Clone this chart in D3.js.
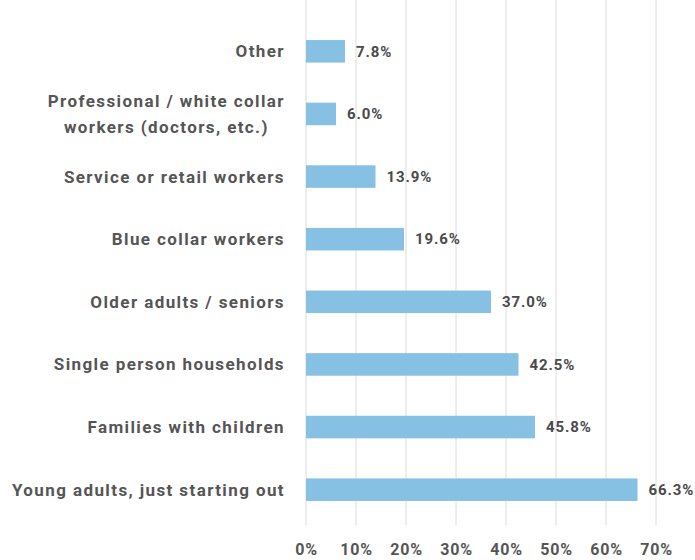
<!DOCTYPE html>
<html><head><meta charset="utf-8">
<script src="https://cdn.jsdelivr.net/npm/d3@7"></script>
<style>body{margin:0;background:#fff}</style>
</head><body>
<svg id="c" width="695" height="560"></svg>
<script>
const categories = [
  ["Other"],
  ["Professional / white collar", "workers (doctors, etc.)"],
  ["Service or retail workers"],
  ["Blue collar workers"],
  ["Older adults / seniors"],
  ["Single person households"],
  ["Families with children"],
  ["Young adults, just starting out"]
];
const values = [7.8, 6.0, 13.9, 19.6, 37.0, 42.5, 45.8, 66.3];
const tickValues = [0, 10, 20, 30, 40, 50, 60, 70];

const svg = d3.select("#c");
const font = "Roboto, 'DejaVu Sans', sans-serif";
const x = d3.scaleLinear().domain([0, 70]).range([306, 656]);
const y = d3.scaleBand().domain(d3.range(values.length)).range([20, 521]).paddingInner(0.64).paddingOuter(0.32);

// gridlines
svg.append("g").selectAll("line").data(tickValues).join("line")
  .attr("x1", d => x(d)).attr("x2", d => x(d))
  .attr("y1", 0).attr("y2", 525)
  .attr("stroke", "#dcdcdc").attr("stroke-width", 1);

// axis labels
const axis = d3.axisBottom(x).tickValues(tickValues).tickFormat(d => d + "%").tickSize(0).tickPadding(0);
const ag = svg.append("g").attr("transform", "translate(0,544)").call(axis);
ag.select(".domain").remove();
ag.selectAll("text").attr("font-family", font).attr("font-weight", 700).attr("font-size", 16)
  .attr("letter-spacing", "0.8px").attr("fill", "#555");

// bars
svg.append("g").selectAll("rect").data(values).join("rect")
  .attr("x", x(0)).attr("y", (d, i) => y(i))
  .attr("width", d => x(d) - x(0)).attr("height", y.bandwidth())
  .attr("fill", "#86c1e4");

// value labels
svg.append("g").selectAll("text").data(values).join("text")
  .attr("x", d => x(d) + 11).attr("y", (d, i) => y(i) + y.bandwidth() / 2)
  .attr("dy", "0.35em")
  .attr("font-family", font).attr("font-weight", 700).attr("font-size", 15)
  .attr("letter-spacing", "0.9px").attr("fill", "#4a4a4a")
  .text(d => d.toFixed(1) + "%");

// category labels
const lg = svg.append("g");
const styleLabel = s => s.attr("font-family", font).attr("font-weight", 700).attr("font-size", 17)
  .attr("letter-spacing", "1.4px").attr("fill", "#555");
categories.forEach((lines, i) => {
  const cy = y(i) + y.bandwidth() / 2;
  const t = styleLabel(lg.append("text"));
  if (lines.length === 1) {
    t.attr("x", 285).attr("y", cy).attr("dy", "0.35em").attr("text-anchor", "end").text(lines[0]);
  } else {
    const lh = 26;
    const ws = lines.map(l => {
      const s = styleLabel(lg.append("text")).text(l);
      const w = s.node().getComputedTextLength(); s.remove(); return w;
    });
    const cx = 285 - d3.max(ws) / 2;
    t.attr("text-anchor", "middle");
    lines.forEach((l, k) => {
      t.append("tspan").attr("x", cx)
        .attr("y", cy + (k - (lines.length - 1) / 2) * lh).attr("dy", "0.35em").text(l);
    });
  }
});
</script>
</body></html>
